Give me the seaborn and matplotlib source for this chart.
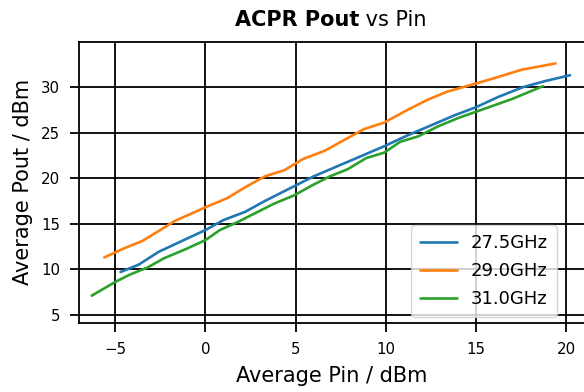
import matplotlib
matplotlib.use("Agg")
import matplotlib.pyplot as plt
import seaborn as sns
import pandas as pd

# Pin / Pout readings per frequency
pin_275 = [-4.7, -3.7, -2.6, -1.2, 0.0, 1.0, 2.2, 3.3, 4.9, 6.0, 7.3, 8.6, 9.9, 11.2,
           12.5, 13.8, 15.0, 16.2, 17.6, 18.9, 20.2]
pout_275 = [9.7, 10.5, 11.9, 13.2, 14.3, 15.4, 16.3, 17.5, 19.1, 20.2, 21.3, 22.4, 23.5, 24.7,
            25.8, 26.9, 27.8, 28.9, 30.0, 30.7, 31.3]

pin_290 = [-5.6, -4.5, -3.5, -2.5, -1.7, 0.0, 1.2, 2.2, 3.3, 4.4, 5.4, 6.6, 7.7, 8.8, 9.9,
           11.2, 12.3, 13.4, 15.0, 16.2, 17.5, 19.4]
pout_290 = [11.3, 12.3, 13.1, 14.3, 15.3, 16.8, 17.8, 19.0, 20.2, 20.9, 22.1, 23.0, 24.2, 25.4, 26.1,
            27.5, 28.6, 29.5, 30.4, 31.1, 31.9, 32.6]

pin_310 = [-6.3, -5.0, -4.2, -3.2, -2.3, -1.1, 0.0, 0.8, 1.8, 2.7, 3.8, 4.9, 6.0, 6.9, 7.9,
           8.9, 9.9, 10.8, 11.8, 12.9, 14.0, 15.0, 16.0, 17.0, 18.7]
pout_310 = [7.1, 8.6, 9.4, 10.2, 11.2, 12.2, 13.2, 14.3, 15.2, 16.1, 17.2, 18.1, 19.3, 20.2, 21.0,
            22.2, 22.8, 24.0, 24.6, 25.7, 26.6, 27.3, 28.0, 28.7, 30.1]

freqs = ['27.5GHz', '29.0GHz', '31.0GHz']

df = pd.concat([
    pd.DataFrame({'Pin': pin_275, 'Pout': pout_275, 'Freq': freqs[0]}),
    pd.DataFrame({'Pin': pin_290, 'Pout': pout_290, 'Freq': freqs[1]}),
    pd.DataFrame({'Pin': pin_310, 'Pout': pout_310, 'Freq': freqs[2]}),
], ignore_index=True)

sns.set_style('ticks')
plt.rcParams['font.family'] = ['DejaVu Sans']
plt.rcParams['text.color'] = 'black'
plt.rcParams['axes.labelcolor'] = 'black'
plt.rcParams['xtick.color'] = 'black'
plt.rcParams['ytick.color'] = 'black'

fig = plt.figure(figsize=(5.84, 3.92), dpi=100)
ax = fig.add_axes([0.1353, 0.176, 0.8964, 0.718])

sns.lineplot(data=df, x='Pin', y='Pout', hue='Freq', hue_order=freqs,
             palette=['#1f77b4', '#ff7f0e', '#2ca02c'], linewidth=1.9,
             sort=False, estimator=None, ax=ax)

ax.set_xlim(-7.0, 22.0)
ax.set_ylim(4.1, 35.0)
ax.set_xticks([-5, 0, 5, 10, 15, 20])
ax.set_yticks([5, 10, 15, 20, 25, 30])
ax.grid(True, color='black', linewidth=1.3)
for s in ax.spines.values():
    s.set_color('black')
    s.set_linewidth(1.3)
ax.tick_params(axis='both', labelsize=10.8, length=6.5, width=1.3, pad=7.2, color='black')

ax.set_xlabel('Average Pin / dBm', fontsize=15)
ax.set_ylabel('Average Pout / dBm', fontsize=15)
ax.xaxis.set_label_coords(0.482, -0.153)
ax.yaxis.set_label_coords(-0.0879, 0.5)

leg = ax.legend(loc='lower right', bbox_to_anchor=(557 / 584, 1 - 317 / 392),
                bbox_transform=fig.transFigure, borderaxespad=0, fontsize=13,
                frameon=True, framealpha=0.8, edgecolor='#cccccc', borderpad=0.5,
                labelspacing=0.55)

t1 = fig.text(235 / 584, 1 - 26 / 392, 'ACPR Pout', fontsize=15, fontweight='bold',
              va='baseline', ha='left')
ax.annotate(' vs Pin', xy=(1, 0), xycoords=t1, fontsize=15, va='bottom', ha='left',
            annotation_clip=False)

fig.savefig('out.png', dpi=100)
